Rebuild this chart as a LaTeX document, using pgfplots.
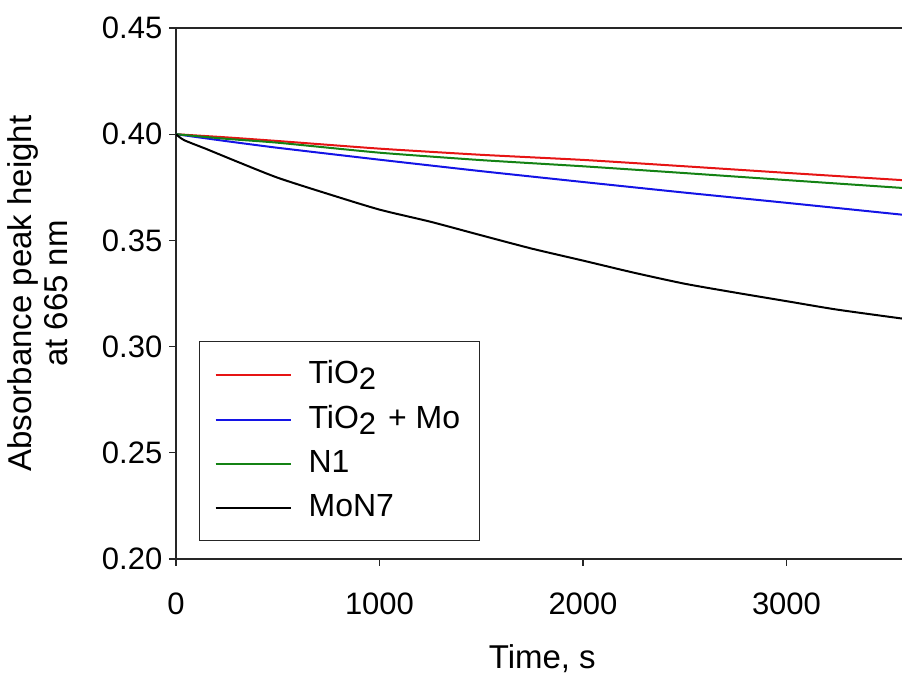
\documentclass[border=0pt]{standalone}
\usepackage{fontspec}
\setmainfont{Liberation Sans}
\usepackage{pgfplots}
\pgfplotsset{compat=1.18}
\definecolor{cred}{RGB}{230,20,20}
\definecolor{cblue}{RGB}{20,20,230}
\definecolor{cgreen}{RGB}{20,130,20}
\newcommand{\sub}[1]{\raisebox{-0.3ex}{\fontsize{15.5pt}{15pt}\selectfont #1}}
\begin{document}
\fontsize{16pt}{19pt}\selectfont
\begin{tikzpicture}
\clip (-88pt,-59pt) rectangle (363pt,279.5pt);
\begin{axis}[
  name=ax,
  scale only axis, width=366.3pt, height=265.5pt,
  xmin=0, xmax=3600, ymin=0.20, ymax=0.45,
  axis x line*=bottom, axis y line*=left,
  axis line style={-, line width=0.8pt, black!85},
  every tick/.style={black!85, line width=0.6pt},
  tick align=outside, major tick length=3.3pt,
  xtick={0,1000,2000,3000},
  ytick={0.20,0.25,0.30,0.35,0.40,0.45},
  /pgf/number format/assume math mode=true,
  /pgf/number format/1000 sep={},
  scaled ticks=false,
  yticklabel style={xshift=2pt, /pgf/number format/fixed, /pgf/number format/fixed zerofill, /pgf/number format/precision=2},
  ticklabel style={font=\fontsize{15.5pt}{19pt}\selectfont},
  xticklabel style={anchor=base, yshift=-24.5pt},
  xlabel={Time, s},
  xlabel style={at={(axis description cs:0.5,0)}, anchor=base, yshift=-54.5pt, font=\fontsize{16.5pt}{19pt}\selectfont},
  ylabel={Absorbance peak height\\at 665 nm},
  ylabel style={at={(axis description cs:0,0.5)}, anchor=south, inner sep=0pt, yshift=54pt,
    align=center, font=\fontsize{16.5pt}{18pt}\selectfont},
  legend style={at={(axis description cs:0.0314,0.0339)}, anchor=south west,
    draw=black!85, line width=0.6pt, font=\fontsize{16pt}{19pt}\selectfont,
    inner xsep=7.5pt, inner ysep=7.5pt, row sep=4.5pt,
    /tikz/every odd column/.append style={column sep=6.5pt}},
  legend cell align=left,
  legend image code/.code={\draw[#1] (0pt,0pt) -- (37.5pt,0pt);},
]
\addplot[cred, line width=1pt, smooth, tension=0.3] coordinates {
(0,0.4000) (250,0.3985) (500,0.3968) (1000,0.3932) (1500,0.3903)
(2000,0.3879) (2500,0.3849) (3000,0.3818) (3600,0.3782)};
\addlegendentry{TiO\sub{2}}
\addplot[cblue, line width=1pt, smooth, tension=0.3] coordinates {
(0,0.4000) (250,0.3967) (500,0.3936) (1000,0.3880) (1500,0.3826)
(2000,0.3775) (2500,0.3725) (3000,0.3677) (3600,0.3618)};
\addlegendentry{TiO\sub{2}\hspace{1.5pt} + Mo}
\addplot[cgreen, line width=1pt, smooth, tension=0.3] coordinates {
(0,0.4000) (250,0.3978) (500,0.3960) (1000,0.3913) (1500,0.3878)
(2000,0.3849) (2500,0.3817) (3000,0.3784) (3600,0.3745)};
\addlegendentry{N1}
\addplot[black, line width=1pt, smooth, tension=0.4] coordinates {
(0,0.4000) (40,0.3972) (150,0.3930) (300,0.3871) (500,0.3795) (750,0.3718)
(1000,0.3645) (1250,0.3588) (1500,0.3524) (1750,0.3461) (2000,0.3405)
(2250,0.3348) (2500,0.3296) (2750,0.3254) (3000,0.3214) (3250,0.3174) (3600,0.3128)};
\addlegendentry{MoN7}
\end{axis}
\draw[line width=0.8pt, black!85] (ax.north west) -- (ax.north east);
\end{tikzpicture}
\end{document}
